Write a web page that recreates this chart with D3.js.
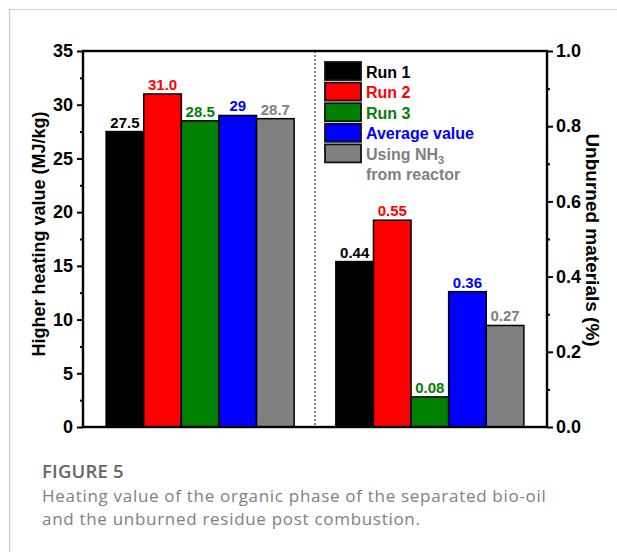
<!DOCTYPE html>
<html lang="en">
<head>
    <meta charset="UTF-8">
    <title>Figure 5</title>
    <script src="https://d3js.org/d3.v7.min.js"></script>
    <style>
        body { margin: 0; background: #fff; }
        svg text { font-family: "Liberation Sans", Arial, sans-serif; }
        svg text.caption { font-family: "Open Sans", sans-serif; }
    </style>
</head>
<body>
    <div id="chart"></div>
    <script>
        // groups and series
        const groups = ["hhv", "unburned"];
        const series = ["Run 1", "Run 2", "Run 3", "Average value", "Using NH3"];
        const colors = ["#000000", "#ff0000", "#008000", "#0000ff", "#808080"];
        const hhvValues = [27.5, 31.0, 28.5, 29, 28.7];
        const hhvLabels = ["27.5", "31.0", "28.5", "29", "28.7"];
        const unburnedValues = [0.44, 0.55, 0.08, 0.36, 0.27];
        const unburnedLabels = ["0.44", "0.55", "0.08", "0.36", "0.27"];
        const leftTicks = [0, 5, 10, 15, 20, 25, 30, 35];
        const rightTicks = [0, 0.2, 0.4, 0.6, 0.8, 1.0];

        const width = 617, height = 552;
        const margin = { left: 83, right: 70, top: 51, bottom: 125 };
        const x0 = margin.left, x1 = width - margin.right;
        const y0 = height - margin.bottom, y1 = margin.top;

        const svg = d3.select("#chart").append("svg")
            .attr("width", width)
            .attr("height", height);

        // frame border of figure panel
        svg.append("path")
            .attr("d", `M${width},9.5 H9.5 V${height}`)
            .attr("fill", "none")
            .attr("stroke", "#cccccc")
            .attr("stroke-width", 1.2);

        const groupScale = d3.scalePoint().domain(groups).range([x0, x1]).padding(0.51);
        const barScale = d3.scaleBand().domain(series).range([-94, 94]);
        const yLeft = d3.scaleLinear().domain([0, 35]).range([y0, y1]);
        const yRight = d3.scaleLinear().domain([0, 1]).range([y0, y1]);

        // separator
        svg.append("line")
            .attr("x1", (x0 + x1) / 2).attr("x2", (x0 + x1) / 2)
            .attr("y1", y1).attr("y2", y0)
            .attr("stroke", "#333")
            .attr("stroke-width", 1.2)
            .attr("stroke-dasharray", "2,2");

        function drawGroup(key, values, labels, y) {
            const g = svg.append("g")
                .attr("transform", `translate(${groupScale(key)},0)`);
            g.selectAll("rect")
                .data(values)
                .enter()
                .append("rect")
                .attr("x", (d, i) => barScale(series[i]))
                .attr("y", d => y(d))
                .attr("width", barScale.bandwidth())
                .attr("height", d => y0 - y(d))
                .attr("fill", (d, i) => colors[i])
                .attr("stroke", "#000")
                .attr("stroke-width", 1.5);
            g.selectAll("text")
                .data(values)
                .enter()
                .append("text")
                .attr("x", (d, i) => barScale(series[i]) + barScale.bandwidth() / 2)
                .attr("y", d => y(d) - 4)
                .attr("text-anchor", "middle")
                .attr("font-size", 15)
                .attr("font-weight", "bold")
                .attr("fill", (d, i) => colors[i])
                .text((d, i) => labels[i]);
        }
        drawGroup("hhv", hhvValues, hhvLabels, yLeft);
        drawGroup("unburned", unburnedValues, unburnedLabels, yRight);

        // axes
        const leftAxis = d3.axisLeft(yLeft).tickValues(leftTicks).tickSize(6).tickPadding(4);
        const leftMinor = d3.axisLeft(yLeft).tickValues(d3.range(2.5, 35, 5)).tickSize(3).tickFormat("");
        const rightAxis = d3.axisRight(yRight).tickValues(rightTicks).tickSize(6).tickPadding(3).tickFormat(d3.format(".1f"));
        const rightMinor = d3.axisRight(yRight).tickValues(d3.range(0.1, 1, 0.2)).tickSize(3).tickFormat("");

        function styleAxis(sel) {
            sel.select(".domain").remove();
            sel.selectAll("line").attr("stroke", "#000").attr("stroke-width", 2);
            sel.selectAll("text")
                .attr("font-size", 18)
                .attr("font-weight", "bold")
                .attr("fill", "#000");
        }
        svg.append("g").attr("transform", `translate(${x0},0)`).call(leftAxis).call(styleAxis);
        svg.append("g").attr("transform", `translate(${x0},0)`).call(leftMinor).call(styleAxis);
        svg.append("g").attr("transform", `translate(${x1},0)`).call(rightAxis).call(styleAxis);
        svg.append("g").attr("transform", `translate(${x1},0)`).call(rightMinor).call(styleAxis);

        // plot box
        svg.append("rect")
            .attr("x", x0).attr("y", y1)
            .attr("width", x1 - x0).attr("height", y0 - y1)
            .attr("fill", "none")
            .attr("stroke", "#000")
            .attr("stroke-width", 2.4);

        // axis titles
        svg.append("text")
            .attr("transform", "translate(45,234) rotate(-90)")
            .attr("text-anchor", "middle")
            .attr("font-size", 18)
            .attr("font-weight", "bold")
            .text("Higher heating value (MJ/kg)");
        svg.append("text")
            .attr("transform", "translate(586,240) rotate(90)")
            .attr("text-anchor", "middle")
            .attr("font-size", 19)
            .attr("font-weight", "bold")
            .text("Unburned materials (%)");

        // legend
        const legend = svg.append("g").attr("transform", "translate(325,62)");
        const rowH = 20.6;
        series.forEach((s, i) => {
            const row = legend.append("g").attr("transform", `translate(0,${i * rowH})`);
            row.append("rect")
                .attr("width", 36).attr("height", 18)
                .attr("fill", colors[i])
                .attr("stroke", "#111")
                .attr("stroke-width", 1.8);
            const t = row.append("text")
                .attr("x", 41).attr("y", 15.5)
                .attr("font-size", 16)
                .attr("font-weight", "bold")
                .attr("fill", colors[i]);
            if (s === "Using NH3") {
                t.append("tspan").text("Using NH");
                t.append("tspan").attr("font-size", 11).attr("dy", 4).text("3");
                row.append("text")
                    .attr("x", 41).attr("y", 36)
                    .attr("font-size", 16)
                    .attr("font-weight", "bold")
                    .attr("fill", colors[i])
                    .text("from reactor");
            } else {
                t.text(s);
            }
        });

        // caption
        svg.append("text")
            .attr("class", "caption")
            .attr("x", 42).attr("y", 478)
            .attr("font-size", 18.5)
            .attr("font-weight", 600)
            .attr("letter-spacing", 0.2)
            .attr("fill", "#666")
            .text("FIGURE 5");
        const captionLines = [
            "Heating value of the organic phase of the separated bio-oil",
            "and the unburned residue post combustion."
        ];
        svg.selectAll(".capline")
            .data(captionLines)
            .enter()
            .append("text")
            .attr("class", "caption")
            .attr("x", 42)
            .attr("y", (d, i) => 502 + i * 23)
            .attr("font-size", 17)
            .attr("font-weight", 400)
            .attr("letter-spacing", 0.7)
            .attr("fill", "#808080")
            .text(d => d);
    </script>
</body>
</html>
